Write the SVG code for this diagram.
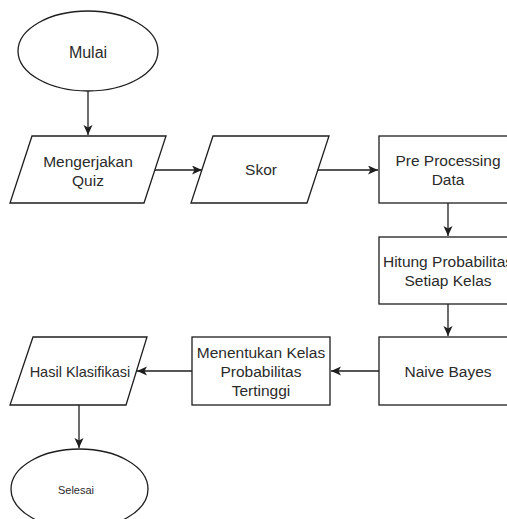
<svg xmlns="http://www.w3.org/2000/svg" width="507" height="519" viewBox="0 0 507 519">
<defs>
<style>
.s{fill:#fff;stroke:#1e1e1e;stroke-width:1.3}
.t{font-family:"Liberation Sans",Arial,sans-serif;font-size:15.5px;fill:#2b2b2b;text-anchor:middle}
.e{fill:none;stroke:#1e1e1e;stroke-width:1.3}
</style>
<marker id="a" markerUnits="userSpaceOnUse" markerWidth="11" markerHeight="10" refX="10" refY="4.5" orient="auto">
<path d="M0,0 L10,4.5 L0,9 L2.5,4.5 Z" fill="#1e1e1e"/>
</marker>
</defs>
<rect width="507" height="519" fill="#fff"/>
<g id="connectors">
<line class="e" x1="88" y1="91" x2="88" y2="135" marker-end="url(#a)"/>
<line class="e" x1="155" y1="170" x2="202" y2="170" marker-end="url(#a)"/>
<line class="e" x1="318" y1="170" x2="378" y2="170" marker-end="url(#a)"/>
<line class="e" x1="448" y1="203" x2="448" y2="236" marker-end="url(#a)"/>
<line class="e" x1="448" y1="304" x2="448" y2="336" marker-end="url(#a)"/>
<line class="e" x1="379" y1="371" x2="331" y2="371" marker-end="url(#a)"/>
<line class="e" x1="192" y1="371" x2="137" y2="371" marker-end="url(#a)"/>
<line class="e" x1="79" y1="405" x2="79" y2="448" marker-end="url(#a)"/>
</g>
<g id="mulai">
<ellipse class="s" cx="88" cy="51" rx="70" ry="40"/>
<text class="t" x="88" y="58" style="font-size:16px">Mulai</text>
</g>
<g id="mengerjakan">
<polygon class="s" points="32,136 166,136 144,203 10,203"/>
<text class="t" x="88" y="167">Mengerjakan</text>
<text class="t" x="88" y="186">Quiz</text>
</g>
<g id="skor">
<polygon class="s" points="213,136 329,136 307,203 191,203"/>
<text class="t" x="261" y="175">Skor</text>
</g>
<g id="preprocessing">
<rect class="s" x="379" y="136" width="138" height="67"/>
<text class="t" x="448" y="166">Pre Processing</text>
<text class="t" x="448" y="185">Data</text>
</g>
<g id="hitung">
<rect class="s" x="379" y="237" width="138" height="67"/>
<text class="t" x="448" y="267">Hitung Probabilitas</text>
<text class="t" x="448" y="286">Setiap Kelas</text>
</g>
<g id="naivebayes">
<rect class="s" x="379" y="337" width="138" height="68"/>
<text class="t" x="448" y="377">Naive Bayes</text>
</g>
<g id="menentukan">
<rect class="s" x="192" y="337" width="138" height="68"/>
<text class="t" x="261" y="358">Menentukan Kelas</text>
<text class="t" x="261" y="377">Probabilitas</text>
<text class="t" x="261" y="396">Tertinggi</text>
</g>
<g id="hasil">
<polygon class="s" points="33,337 147,337 126,405 10,405"/>
<text class="t" x="80" y="377" style="font-size:14.5px">Hasil Klasifikasi</text>
</g>
<g id="selesai">
<ellipse class="s" cx="79.5" cy="489" rx="68.5" ry="40"/>
<text class="t" x="76" y="494" style="font-size:11px">Selesai</text>
</g>
</svg>
